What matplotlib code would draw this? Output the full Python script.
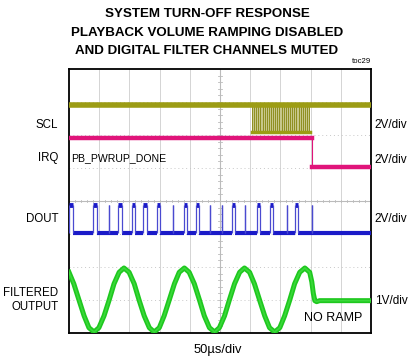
import numpy as np
import matplotlib
matplotlib.use("Agg")
import matplotlib.pyplot as plt

# all positions in scope divisions: x 0..10 (50us/div), y 0..8
title_lines = ["SYSTEM TURN-OFF RESPONSE",
               "PLAYBACK VOLUME RAMPING DISABLED",
               "AND DIGITAL FILTER CHANNELS MUTED"]
channel_names = ["SCL", "IRQ", "DOUT", "FILTERED\nOUTPUT"]
channel_label_y = [6.3, 5.3, 3.45, 1.0]
scale_labels = ["2V/div", "2V/div", "2V/div", "1V/div"]
scale_label_y = [6.3, 5.25, 3.45, 0.97]

# SCL: idle high, clock burst before turn-off
scl_high = 6.9
scl_low = 6.1
scl_burst = (6.05, 7.98)
scl_edges = [6.06, 6.13, 6.20, 6.27, 6.34, 6.41, 6.48, 6.55, 6.62, 6.69,
             6.76, 6.83, 6.90, 6.97, 7.04, 7.11, 7.18, 7.25, 7.32, 7.39,
             7.46, 7.53, 7.60, 7.67, 7.74, 7.81, 7.88, 7.95]

# IRQ (PB_PWRUP_DONE) falls when playback stops
irq_t = [0.0, 8.04, 8.04, 10.0]
irq_v = [5.9, 5.9, 5.03, 5.03]

# DOUT: low level with high pulses (start, end)
dout_low = 3.03
dout_high = 3.88
dout_pulses = [(0.00, 0.13), (0.79, 0.93), (1.31, 1.33), (1.62, 1.75),
               (2.09, 2.19), (2.45, 2.58), (2.91, 3.01), (3.43, 3.45),
               (3.81, 3.91), (4.22, 4.30), (4.66, 4.68), (5.06, 5.08),
               (5.40, 5.50), (5.82, 5.84), (6.23, 6.32), (6.66, 6.75),
               (7.21, 7.23), (7.48, 7.58), (8.04, 8.06)]

# filtered output: sine, then drops to mid level with no ramp
out_t = [0.00, 0.16, 0.33, 0.50, 0.66, 0.83, 0.99, 1.16, 1.33, 1.49, 1.66, 1.82,
         1.99, 2.16, 2.32, 2.49, 2.66, 2.82, 2.99, 3.15, 3.32, 3.49, 3.65, 3.82,
         3.98, 4.15, 4.32, 4.48, 4.65, 4.82, 4.98, 5.15, 5.31, 5.48, 5.65, 5.81,
         5.98, 6.14, 6.31, 6.48, 6.64, 6.81, 6.98, 7.14, 7.31, 7.47, 7.64, 7.81,
         7.97, 8.04, 8.09, 8.14, 8.20, 8.30, 10.0]
out_v = [1.84, 1.49, 1.00, 0.52, 0.16, 0.03, 0.16, 0.52, 1.00, 1.49, 1.84, 1.97,
         1.84, 1.49, 1.00, 0.52, 0.16, 0.03, 0.16, 0.52, 1.00, 1.49, 1.84, 1.97,
         1.84, 1.49, 1.00, 0.52, 0.16, 0.03, 0.16, 0.52, 1.00, 1.49, 1.84, 1.97,
         1.84, 1.49, 1.00, 0.52, 0.16, 0.03, 0.16, 0.52, 1.00, 1.49, 1.84, 1.97,
         1.84, 1.55, 1.20, 0.98, 0.95, 0.98, 0.98]

plt.rcParams["font.family"] = ["Liberation Sans", "DejaVu Sans"]

fig = plt.figure(figsize=(4.09, 3.58), dpi=100)
ax = fig.add_axes([69 / 409, 25 / 358, 302 / 409, 264 / 358])
ax.set_xlim(0, 10)
ax.set_ylim(0, 8)
ax.set_xticks([])
ax.set_yticks([])
for s in ax.spines.values():
    s.set_linewidth(1.3)
    s.set_color("black")

# graticule
for i in range(1, 10):
    ax.axvline(i, color="#d4d4d4", lw=0.7, zorder=0)
for j in range(1, 8):
    ax.axhline(j, color="#c8c8c8", lw=0.7, ls=(0, (1, 3)), zorder=0)
ax.axvline(5, color="#bbbbbb", lw=0.8, zorder=0)
ax.axhline(4, color="#bbbbbb", lw=0.8, zorder=0)
for k in range(1, 50):
    ax.plot([k * 0.2, k * 0.2], [3.96, 4.04], color="#bbbbbb", lw=0.6, zorder=0)
for k in range(1, 40):
    ax.plot([4.93, 5.07], [k * 0.2, k * 0.2], color="#bbbbbb", lw=0.6, zorder=0)

# SCL
olive = "#9c9c14"
ax.fill_between(scl_burst, scl_low, scl_high, color="#c6c68a", lw=0, zorder=2)
ax.vlines(scl_edges, [scl_low] * len(scl_edges), [scl_high] * len(scl_edges),
          color="#8e8e20", lw=0.7, zorder=2)
ax.plot([0, 10], [scl_high, scl_high], color=olive, lw=4.0, zorder=3)
ax.plot(scl_burst, [scl_low, scl_low], color=olive, lw=2.5, zorder=3)

# IRQ
ax.plot(irq_t[:2], irq_v[:2], color="#e0147a", lw=3.2, zorder=3)
ax.plot(irq_t[2:], irq_v[2:], color="#e0147a", lw=3.2, zorder=3)
ax.plot(irq_t[1:3], irq_v[1:3], color="#e0147a", lw=0.8, zorder=3)

# DOUT
blue = "#1a1ac8"
starts = [a for a, b in dout_pulses]
ends = [b for a, b in dout_pulses]
low_from = [0.0] + ends
low_to = starts + [10.0]
ax.hlines([dout_low] * len(low_from), low_from, low_to, color=blue, lw=3.0, zorder=3)
ax.hlines([dout_high] * len(starts), starts, ends, color=blue, lw=3.5, zorder=3)
ax.vlines(starts + ends, [dout_low] * (2 * len(starts)), [dout_high] * (2 * len(starts)),
          color="#4a4ad0", lw=0.9, zorder=3)

# filtered output
ax.plot(out_t, out_v, color="#1ec81e", lw=3.6, solid_joinstyle="round", zorder=3)
ax.plot(out_t, out_v, color="#3ad83a", lw=1.2, zorder=3)

ax.text(0.07, 5.3, "PB_PWRUP_DONE", fontsize=7.6, va="center", ha="left")
ax.text(8.74, 0.45, "NO RAMP", fontsize=9.0, va="center", ha="center")

for name, y in zip(channel_names, channel_label_y):
    ax.text(-0.36, y, name, fontsize=8.3, ha="right", va="center",
            linespacing=1.15, clip_on=False)
for lab, y in zip(scale_labels, scale_label_y):
    ax.text(10.13, y, lab, fontsize=8.5, ha="left", va="center", clip_on=False)

for line, y in zip(title_lines, [0.961, 0.909, 0.858]):
    fig.text(0.506, y, line, fontsize=9.6, fontweight="bold", ha="center", va="center")
fig.text(0.883, 0.828, "toc29", fontsize=5.6, ha="center", va="center")
fig.text(0.533, 0.022, "50\u00b5s/div", fontsize=9.3, ha="center", va="center")

fig.savefig("out.png", dpi=100)
